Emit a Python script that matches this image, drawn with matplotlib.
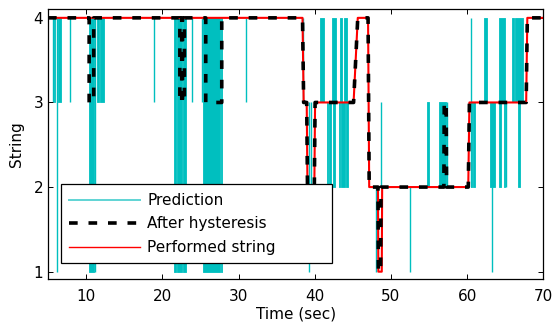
import numpy as np
import matplotlib
matplotlib.use("Agg")
import matplotlib.pyplot as plt
from matplotlib.lines import Line2D

# performed string (red), polyline vertices
perf_t = [5, 38.4, 38.55, 38.95, 39.05, 39.95, 40.05, 45.1, 45.65, 47.0, 47.15,
          48.3, 48.35, 48.8, 48.85, 60.15, 60.3, 67.75, 67.9, 70]
perf_v = [4, 4, 3, 3, 2, 2, 3, 3, 4, 4, 2,
          2, 1, 1, 2, 2, 3, 3, 4, 4]

# string after hysteresis (black dashed)
hyst_t = [5, 10.4, 10.4, 11.0, 11.0, 22.3, 22.3, 22.55, 22.55, 22.65, 22.65, 22.9, 22.9,
          25.7, 25.7, 27.8, 27.8, 38.4, 38.55, 38.95, 39.05, 39.95, 40.05, 45.1, 45.65,
          47.0, 47.15, 48.3, 48.35, 48.65, 48.7, 56.95, 57.0, 57.25, 57.3,
          60.15, 60.3, 67.75, 67.9, 70]
hyst_v = [4, 4, 3, 3, 4, 4, 3, 3, 4, 4, 3, 3, 4,
          4, 3, 3, 4, 4, 3, 3, 2, 2, 3, 3, 4,
          4, 2, 2, 1, 1, 2, 2, 3, 3, 2,
          2, 3, 3, 4, 4]

# raw prediction (cyan): single spikes (time, low, high)
line_t = [5.61, 6.18, 7.9, 11.22, 18.94, 23.85, 25.18, 30.98, 38.5, 39.25, 39.47,
          48.1, 48.75, 52.55, 57.35, 60.45, 63.3, 65.14]
line_lo = [3, 1, 3, 1, 3, 3, 3, 3, 3, 1, 2,
           1, 2, 1, 2, 2, 1, 2]
line_hi = [4, 4, 4, 4, 4, 4, 4, 4, 4, 3, 3,
           2, 3, 2, 3, 4, 2, 3]

# raw prediction (cyan): dense switching blocks (start, end, low, high)
blk_t0 = [5.74, 6.32, 10.34, 11.44, 11.88, 21.6, 21.95, 22.75, 25.33, 27.65,
          40.7, 42.24, 43.33, 43.85, 41.55, 41.85, 42.42, 43.22, 43.5, 44.08,
          54.78, 56.3, 60.52, 60.82, 62.2, 63.05, 64.22, 64.14, 64.8,
          65.9, 66.25, 66.7]
blk_t1 = [5.93, 6.71, 11.0, 11.75, 12.31, 21.75, 22.6, 23.14, 27.52, 27.87,
          41.2, 42.76, 43.62, 44.2, 41.7, 42.2, 42.7, 43.38, 43.92, 44.36,
          55.0, 57.18, 60.7, 61.07, 62.6, 63.7, 64.93, 64.48, 65.0,
          66.1, 67.3, 66.98]
blk_lo = [3, 3, 1, 3, 3, 1, 1, 1, 1, 1,
          3, 3, 3, 3, 2, 2, 2, 2, 2, 2,
          2, 2, 2, 2, 3, 2, 3, 2, 2,
          3, 3, 2]
blk_hi = [4, 4, 4, 4, 4, 4, 4, 4, 4, 4,
          4, 4, 4, 4, 3, 3, 3, 3, 3, 3,
          3, 3, 3, 3, 4, 3, 4, 3, 3,
          4, 4, 3]

cyan = '#00bfbf'

fig = plt.figure(figsize=(5.53, 3.24), dpi=100)
ax = fig.add_axes([0.0868, 0.138, 0.8957, 0.833])

# prediction
ax.vlines(line_t, line_lo, line_hi, color=cyan, linewidth=1.0, zorder=1)
for t0, t1, lo, hi in zip(blk_t0, blk_t1, blk_lo, blk_hi):
    ax.fill_between([t0, t1], [lo, lo], [hi, hi], color=cyan, linewidth=0.6,
                    edgecolor=cyan, zorder=1)

# performed string + hysteresis
ax.plot(perf_t, perf_v, color='red', linewidth=1.5, zorder=2)
ax.plot(hyst_t, hyst_v, color='black', linewidth=2.6, dashes=(2.4, 3.0), zorder=3)

ax.set_xlim(5, 70)
ax.set_ylim(0.91, 4.1)
ax.set_xticks([10, 20, 30, 40, 50, 60, 70])
ax.set_yticks([1, 2, 3, 4])
ax.tick_params(direction='in', length=3.5, width=0.7, top=True, right=True,
               labelsize=11)
ax.tick_params(axis='x', pad=7)
ax.tick_params(axis='y', pad=3.5)
for s in ax.spines.values():
    s.set_linewidth(0.9)

ax.set_xlabel('Time (sec)', fontsize=11, labelpad=2)
ax.set_ylabel('String', fontsize=11, labelpad=7)

handles = [Line2D([], [], color='#5fd4d4', linewidth=1.4),
           Line2D([], [], color='black', linewidth=2.6, dashes=(2.4, 3.0)),
           Line2D([], [], color='red', linewidth=1.0)]
labels = ['Prediction', 'After hysteresis', 'Performed string']
leg = ax.legend(handles, labels, loc='lower left', bbox_to_anchor=(0.026, 0.059, 0.547, 0.29),
                mode='expand', borderaxespad=0, fontsize=11, handlelength=4.6,
                handletextpad=0.5, labelspacing=0.56, borderpad=0.55,
                fancybox=False, framealpha=1)
leg.get_frame().set_edgecolor('black')
leg.get_frame().set_linewidth(0.9)

fig.savefig('out.png', dpi=100)
